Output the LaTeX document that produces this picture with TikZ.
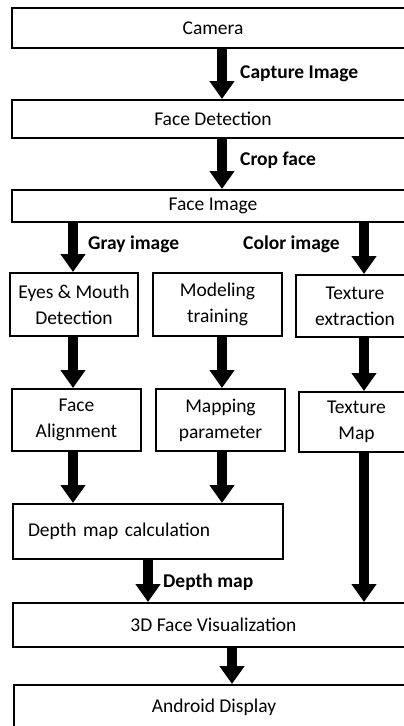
\documentclass[tikz,border=0pt]{standalone}
\usepackage{fontspec}
\setmainfont{Carlito}
\usetikzlibrary{arrows.meta, positioning, calc}

\begin{document}
\begin{tikzpicture}[
        x=1pt, y=-1pt,
        stage/.style={rectangle, draw=black, line width=2pt, inner sep=0pt, align=center, font=\fontsize{19.5}{26}\selectfont},
        pass/.style={-{Triangle[width=24pt, length=18pt]}, line width=10pt},
        note/.style={anchor=base west, inner sep=0pt, font=\fontsize{19.5}{23}\selectfont\bfseries},
    ]
        \useasboundingbox (0,0) rectangle (404,726);
        \clip (0,0) rectangle (404,726);
        % columns the arrows run along
        \coordinate (lcol) at (73,0);
        \coordinate (mcol) at (222,0);
        \coordinate (rcol) at (364,0);
        \coordinate (bcol) at (232,0);

        \node[stage, minimum width=402pt, minimum height=40pt] (cam) at (213,28) {Camera};
        \node[stage, minimum width=402pt, minimum height=38pt] (det) at (213,119) {Face Detection};
        \node[stage, minimum width=402pt, minimum height=32pt] (img) at (213,206) {Face Image};

        \node[stage, minimum width=128pt, minimum height=63pt] (eyes) at (74,304.5) {Eyes \& Mouth\\Detection};
        \node[stage, minimum width=129pt, minimum height=63pt] (model) at (217.5,304.5) {Modeling\\training};
        \node[stage, minimum width=118pt, minimum height=62pt] (tex) at (355,306) {Texture\\extraction};

        \node[stage, minimum width=129pt, minimum height=62pt] (align) at (76.5,420) {Face\\Alignment};
        \node[stage, minimum width=129pt, minimum height=62pt] (map) at (220.5,420) {Mapping\\parameter};
        \node[stage, minimum width=115pt, minimum height=60pt] (tmap) at (356.5,422) {Texture\\Map};

        \node[stage, align=left, text width=240pt, inner xsep=15pt, minimum height=55pt] (depth) at (148,531.5) {Depth map calculation};
        \node[stage, minimum width=401pt, minimum height=44pt] (viz) at (213.5,625) {3D Face Visualization};
        \node[stage, minimum width=400pt, minimum height=44pt] (disp) at (214,707) {Android Display};

        \draw[pass] (cam.south -| mcol) -- (det.north -| mcol);
        \draw[pass] (det.south -| mcol) -- (img.north -| mcol);
        \draw[pass] (img.south -| lcol) -- (eyes.north -| lcol);
        \draw[pass] (img.south -| rcol) -- (tex.north -| rcol);
        \draw[pass] (eyes.south -| lcol) -- (align.north -| lcol);
        \draw[pass] (model.south -| mcol) -- (map.north -| mcol);
        \draw[pass] (tex.south -| rcol) -- (tmap.north -| rcol);
        \draw[pass] (align.south -| lcol) -- (depth.north -| lcol);
        \draw[pass] (map.south -| mcol) -- (depth.north -| mcol);
        \draw[pass] (depth.south) -- (viz.north -| depth.south);
        \draw[pass] (tmap.south -| rcol) -- (viz.north -| rcol);
        \draw[pass] (viz.south -| bcol) -- (disp.north -| bcol);

        \node[note] (cap) at (240,78) {Capture Image};
        \node[note] (crop) at (240,165) {Crop face};
        \node[note] (gray) at (88,249) {Gray image};
        \node[note] (color) at (243,249) {Color image};
        \node[note] (dmap) at (163,587) {Depth map};
    \end{tikzpicture}
\end{document}
